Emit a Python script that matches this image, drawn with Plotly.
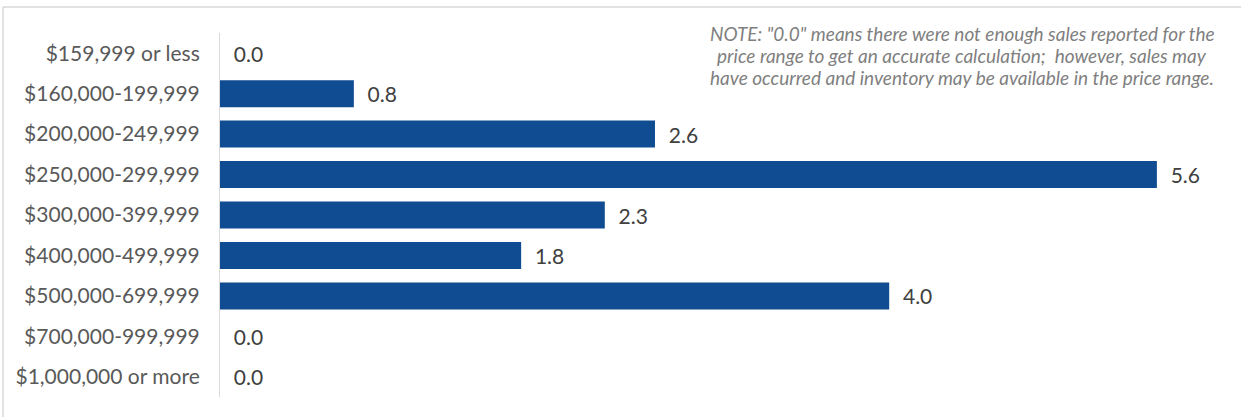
import plotly.graph_objects as go

categories = ["$159,999 or less", "$160,000-199,999", "$200,000-249,999", "$250,000-299,999",
              "$300,000-399,999", "$400,000-499,999", "$500,000-699,999", "$700,000-999,999",
              "$1,000,000 or more"]
values = [0.0, 0.8, 2.6, 5.6, 2.3, 1.8, 4.0, 0.0, 0.0]
note_lines = ['NOTE: "0.0" means there were not enough sales reported for the',
              'price range to get an accurate calculation;  however, sales may',
              'have occurred and inventory may be available in the price range.']

W, H = 1241, 417
ml, mr, mt, mb = 220, 11, 33, 20
pw, ph = W - ml - mr, H - mt - mb

def px(x):
    return (x - ml) / pw

def py(y):
    return (H - mb - y) / ph

fig = go.Figure(go.Bar(
    y=categories, x=values, orientation="h",
    marker=dict(color="#0f4c92", line=dict(width=0)),
    text=["  " + f"{v:.1f}" for v in values],
    textposition="outside", cliponaxis=False,
    textfont=dict(family="Lato", size=21, color="#404040"),
    width=0.667, hoverinfo="skip",
))

annotations = []
for i, line in enumerate(note_lines):
    annotations.append(dict(
        text=line, xref="paper", yref="paper", x=px(962), y=py(33 + 22 * i),
        xanchor="center", yanchor="middle", align="center", showarrow=False,
        font=dict(family="Lato", size=19, color="#7f7f7f", style="italic"),
    ))

fig.update_layout(
    width=W, height=H,
    margin=dict(l=ml, r=mr, t=mt, b=mb),
    paper_bgcolor="white", plot_bgcolor="white",
    font=dict(family="Lato", size=21, color="#595959"),
    showlegend=False,
    xaxis=dict(range=[0, pw / 167.3], visible=False, fixedrange=True),
    yaxis=dict(autorange="reversed", showline=True, linecolor="#d9d9d9", linewidth=1,
               showgrid=False, ticks="", ticklabelstandoff=15, fixedrange=True,
               tickfont=dict(family="Lato", size=21, color="#595959")),
    annotations=annotations,
    shapes=[
        dict(type="line", xref="paper", yref="paper", x0=px(3), x1=px(1241), y0=py(7), y1=py(7),
             line=dict(color="#d9d9d9", width=1.5)),
        dict(type="line", xref="paper", yref="paper", x0=px(3), x1=px(3), y0=py(7), y1=py(417),
             line=dict(color="#d9d9d9", width=1.5)),
    ],
)

fig.write_html("out.html", config={"displayModeBar": False},
               post_script="document.body.style.margin='0';document.body.style.overflow='hidden';")
